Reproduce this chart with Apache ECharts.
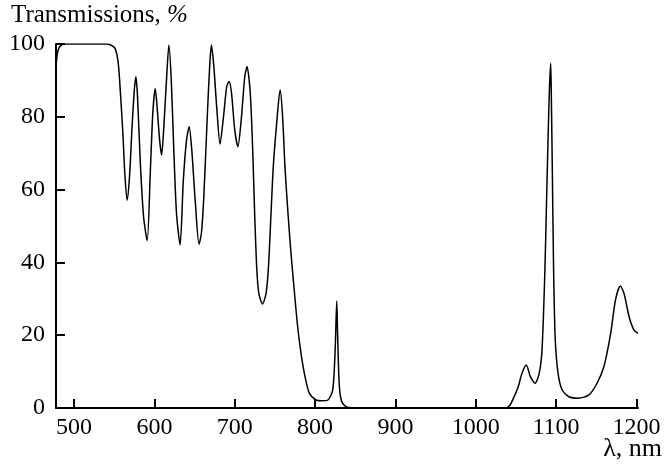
<!DOCTYPE html>
<html>
<head>
<meta charset="utf-8">
<script src="https://cdn.jsdelivr.net/npm/echarts@6/dist/echarts.min.js"></script>
<style>
    html, body { margin: 0; padding: 0; background: #fff; }
    #chart { width: 665px; height: 470px; }
</style>
</head>
<body>
<div id="chart"></div>
<script>
// wavelength, nm
const wavelength = [
    477.5, 480, 484, 490, 500, 520, 540, 545, 551, 555, 558, 561, 563, 566, 569, 572, 575, 577, 579, 582.5,
    586.5, 591, 595, 598, 601, 603, 606.5, 609, 611.5, 615, 618, 621, 624, 627.5, 632, 636, 640, 643.3, 646.5, 651,
    655.5, 658.5, 661.5, 666, 669, 671, 674, 677.5, 681.7, 686, 690, 693, 696, 700, 704, 708, 712.5, 715.4, 718, 720,
    722.5, 725, 727.5, 730, 734.6, 739, 742, 745, 748, 752.5, 756.5, 759.6, 762.5, 766, 769.5, 773, 778, 782.5, 787.5, 793,
    801, 808, 816, 822, 825, 827, 828, 830, 832.5, 836, 840, 850, 900, 950, 1000, 1036, 1042, 1047, 1053, 1057.5,
    1063, 1068, 1074, 1079, 1082.5, 1086, 1088, 1090, 1091.7, 1093.3, 1094, 1095.4, 1097, 1099, 1102.5, 1107.5, 1116, 1128, 1141, 1151,
    1159.6, 1168, 1174, 1180, 1184.6, 1191, 1197, 1202
];
// transmission, %
const transmission = [
    94, 98.2, 99.7, 100, 100, 100, 100, 99.8, 98.8, 94.7, 85.5, 74.5, 65, 57.1, 63.5, 76.4, 87.4, 91, 85.5, 67.2,
    52.6, 46, 65.4, 81, 87.8, 83.7, 73.6, 69.5, 76.4, 90, 99.7, 90, 71.8, 53.5, 44.8, 62.6, 73.6, 77.3, 70.9, 56.3,
    45, 48, 58, 81, 94.7, 99.7, 93.8, 82.8, 72.5, 80, 88.3, 89.7, 86.5, 76.4, 71.8, 79, 91, 93.8, 90, 84,
    70, 52, 38, 31.5, 28.6, 31.5, 38.8, 52.6, 66.3, 79, 87.4, 80, 66.3, 54.4, 44, 35, 23, 15, 8.6, 4,
    2.2, 2, 2.2, 5, 16, 29.4, 20.6, 6.8, 2.2, 0.8, 0.2, 0, 0, 0, 0, 0, 0.6, 2.7, 5.9, 9.5,
    11.8, 8.6, 6.8, 9.5, 15.9, 37, 55.3, 73.6, 87.4, 94.7, 87.4, 64.5, 37, 18.7, 9.5, 5, 3.1, 2.7, 3.6, 6.8,
    11.4, 20.5, 29.7, 33.5, 31.5, 25, 21.4, 20.5
];
const xTicks = [500, 600, 700, 800, 900, 1000, 1100, 1200];
const yTicks = [0, 20, 40, 60, 80, 100];

const serif = '"Liberation Serif", "DejaVu Serif", serif';

function init() {
    let myChart = echarts.init(document.getElementById('chart'));

    let points = wavelength.map((w, i) => [w, transmission[i]]);

    let option = {
        animation: false,
        backgroundColor: '#fff',
        grid: { left: 56, right: 27, top: 44, bottom: 62 },
        xAxis: {
            type: 'value',
            min: 477.5,
            max: 1202,
            axisLine: { show: true, lineStyle: { color: '#000', width: 2 } },
            axisTick: { show: true, inside: true, length: 9, customValues: xTicks,
                lineStyle: { color: '#000', width: 2 } },
            axisLabel: { customValues: xTicks, color: '#000', fontFamily: serif, fontSize: 24, margin: 8,
                formatter: (v) => String(v) },
            splitLine: { show: false }
        },
        yAxis: {
            type: 'value',
            min: 0,
            max: 100,
            interval: 20,
            axisLine: { show: true, lineStyle: { color: '#000', width: 2 } },
            axisTick: { show: true, inside: true, length: 9, customValues: yTicks,
                lineStyle: { color: '#000', width: 2 } },
            axisLabel: { customValues: yTicks, color: '#000', fontFamily: serif, fontSize: 24, margin: 11,
                formatter: (v) => String(v) },
            splitLine: { show: false }
        },
        graphic: [
            {
                type: 'text', left: 11, top: 3,
                style: {
                    text: 'Transmissions, {i|%}',
                    fill: '#000', font: '25px ' + serif,
                    rich: { i: { fontStyle: 'italic', fontSize: 25, fontFamily: serif } }
                }
            },
            {
                type: 'text', right: 3, top: 436,
                style: { text: 'λ, nm', fill: '#000', font: '26px ' + serif }
            }
        ],
        series: [
            {
                type: 'line',
                data: points,
                showSymbol: false,
                smooth: 0.25,
                lineStyle: { color: '#000', width: 1.5 }
            }
        ]
    };

    myChart.setOption(option);
}

init();
</script>
</body>
</html>
